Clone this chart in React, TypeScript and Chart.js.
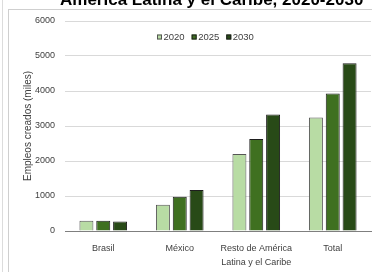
import React, { useEffect, useRef } from 'react';
import { Chart, registerables } from 'chart.js';

Chart.register(...registerables);

const categories: (string | string[])[] = ['Brasil', 'México', ['Resto de América', 'Latina y el Caribe'], 'Total'];
const seriesNames = ['2020', '2025', '2030'];
const values2020 = [290, 750, 2200, 3240];
const values2025 = [290, 980, 2630, 3930];
const values2030 = [270, 1170, 3330, 4790];
const yMin = 0;
const yMax = 6000;
const yStep = 1000;
const titleText = 'América Latina y el Caribe, 2020-2030';
const yAxisTitle = 'Empleos creados (miles)';

const colors = ['#b8dca4', '#3f7020', '#284a17'];
const borders = ['#555555', '#1e1e1e', '#1e1e1e'];
const FONT = "'Liberation Sans', Arial, sans-serif";

const titlePlugin = {
  id: 'cutTitle',
  afterDraw(chart: any) {
    const ctx = chart.ctx;
    ctx.save();
    ctx.font = `bold 17px ${FONT}`;
    ctx.fillStyle = '#000000';
    ctx.textAlign = 'left';
    ctx.textBaseline = 'alphabetic';
    ctx.fillText(titleText, 60, 5);
    ctx.restore();
  },
};

const innerLegend = {
  id: 'innerLegend',
  afterDraw(chart: any) {
    const ctx = chart.ctx;
    const { top } = chart.chartArea;
    ctx.save();
    ctx.font = `9.5px ${FONT}`;
    ctx.textBaseline = 'middle';
    ctx.textAlign = 'left';
    const box = 5;
    const gapBox = 1.5;
    const gapItem = 7;
    const widths = chart.data.datasets.map((d: any) => ctx.measureText(d.label).width);
    const total = widths.reduce((a: number, w: number) => a + box + gapBox + w, 0) + gapItem * (widths.length - 1);
    let x = Math.round(205.5 - total / 2);
    const cy = top + 16;
    chart.data.datasets.forEach((d: any, i: number) => {
      ctx.fillStyle = d.backgroundColor;
      ctx.fillRect(x, cy - box / 2, box, box);
      ctx.strokeStyle = d.borderColor;
      ctx.lineWidth = 1;
      ctx.strokeRect(x + 0.5, cy - box / 2 + 0.5, box - 1, box - 1);
      ctx.fillStyle = '#404040';
      ctx.fillText(d.label, x + box + gapBox, cy);
      x += box + gapBox + widths[i] + gapItem;
    });
    ctx.restore();
  },
};

export default function App() {
  const ref = useRef<HTMLCanvasElement | null>(null);
  useEffect(() => {
    if (!ref.current) return;
    const data = [values2020, values2025, values2030];
    const chart = new Chart(ref.current, {
      type: 'bar',
      data: {
        labels: categories,
        datasets: seriesNames.map((name, i) => ({
          label: name,
          data: data[i],
          backgroundColor: colors[i],
          borderColor: borders[i],
          borderWidth: 1,
          categoryPercentage: 0.66,
          barPercentage: 0.83,
        })),
      },
      options: {
        animation: false,
        responsive: false,
        maintainAspectRatio: false,
        layout: { padding: { top: 21, right: 1, left: 0, bottom: 0 } },
        plugins: {
          title: { display: false },
          tooltip: { enabled: false },
          legend: { display: false },
        },
        scales: {
          x: {
            grid: { display: false, drawTicks: false },
            border: { display: true, color: '#7f7f7f', width: 1 },
            ticks: {
              color: '#404040',
              font: { family: FONT, size: 9, lineHeight: 1.5 },
              padding: 11,
              maxRotation: 0,
              autoSkip: false,
            },
            afterFit(s: any) {
              s.height = 41;
            },
          },
          y: {
            min: yMin,
            max: yMax,
            grid: {
              color: (c: any) => (c.tick && c.tick.value === 0 ? '#7f7f7f' : '#d9d9d9'),
              drawTicks: false,
            },
            border: { display: false },
            ticks: {
              stepSize: yStep,
              color: '#404040',
              font: { family: FONT, size: 9 },
              padding: 10,
              callback: (v: any) => String(v),
            },
            title: {
              display: true,
              text: yAxisTitle,
              color: '#404040',
              font: { family: FONT, size: 10 },
              padding: { top: 22, bottom: 0 },
            },
            afterFit(s: any) {
              s.width = 65;
            },
          },
        },
      },
      plugins: [titlePlugin, innerLegend],
    });
    return () => chart.destroy();
  }, []);

  return (
    <div style={{ position: 'fixed', left: 0, top: 0, width: 372, height: 272, background: '#ffffff', overflow: 'hidden' }}>
      <div style={{ position: 'absolute', left: 2, top: 0, width: 1, height: 272, background: '#dcdcdc' }} />
      <div style={{ position: 'absolute', left: 8, top: 9, width: 1, height: 263, background: '#cfcfcf' }} />
      <div style={{ position: 'absolute', left: 8, top: 9, width: 364, height: 1, background: '#cfcfcf' }} />
      <canvas ref={ref} width={372} height={272} style={{ position: 'absolute', left: 0, top: 0, width: 372, height: 272 }} />
    </div>
  );
}
